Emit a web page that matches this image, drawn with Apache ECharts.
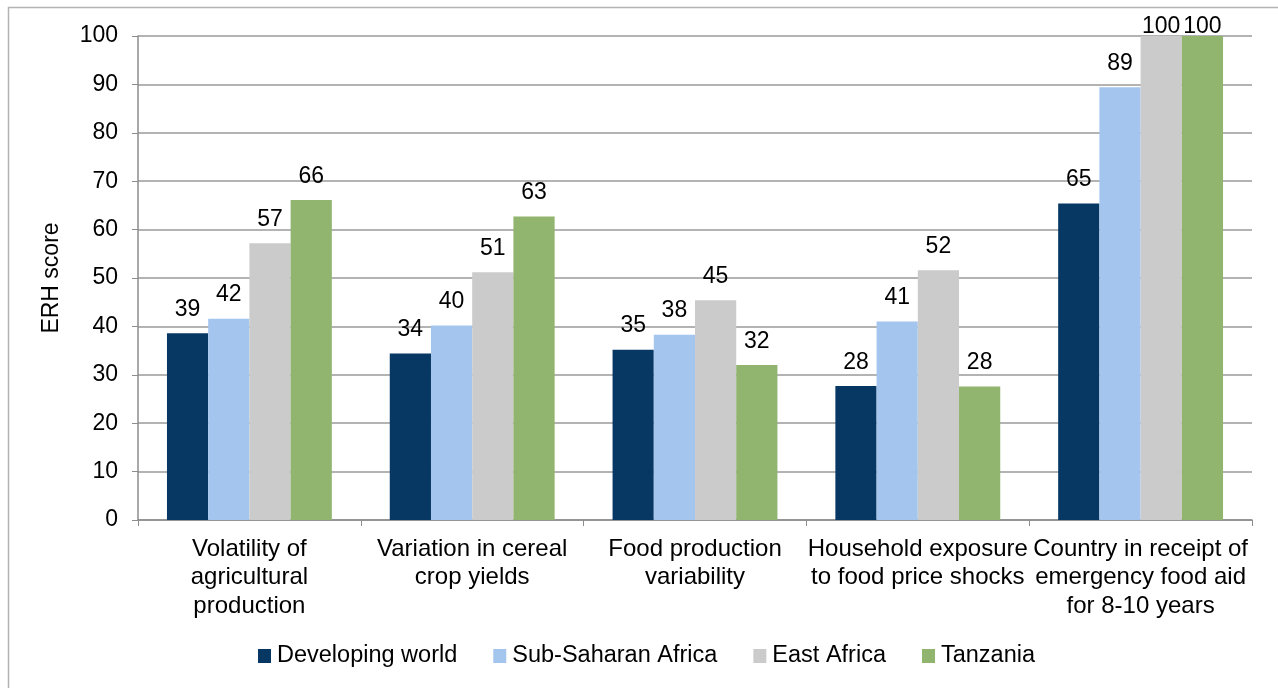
<!DOCTYPE html>
<html>
<head>
<meta charset="utf-8">
<script src="https://cdn.jsdelivr.net/npm/echarts@6/dist/echarts.min.js"></script>
<style>
html,body{margin:0;padding:0;background:#fff;}
#chart{width:1278px;height:688px;}
</style>
</head>
<body>
<div id="chart"></div>
<script>
const categories = [
  "Volatility of\nagricultural\nproduction",
  "Variation in cereal\ncrop yields",
  "Food production\nvariability",
  "Household exposure\nto food price shocks",
  "Country in receipt of\nemergency food aid\nfor 8-10 years"
];
const seriesNames = ["Developing world", "Sub-Saharan Africa", "East Africa", "Tanzania"];
const developingWorld = [38.6, 34.4, 35.2, 27.7, 65.4];
const subSaharanAfrica = [41.6, 40.2, 38.3, 41.0, 89.4];
const eastAfrica = [57.2, 51.2, 45.4, 51.6, 100];
const tanzania = [66.1, 62.7, 32.0, 27.6, 100];
const colors = ["#073763", "#a4c6ee", "#cbcbcb", "#91b46f"];
const yTicks = [0, 10, 20, 30, 40, 50, 60, 70, 80, 90, 100];

const font = "Liberation Sans, Arial, sans-serif";
const fs = 23;
const fsWide = 24;
const dataSets = [developingWorld, subSaharanAfrica, eastAfrica, tanzania];

const chart = echarts.init(document.getElementById('chart'));
chart.setOption({
  animation: false,
  backgroundColor: '#fff',
  textStyle: { fontFamily: font },
  graphic: [{
    type: 'rect',
    shape: { x: 8.5, y: 7.5, width: 1300, height: 700 },
    style: { fill: 'none', stroke: '#b3b3b3', lineWidth: 1.5 },
    silent: true
  }],
  grid: { left: 138, right: 26, top: 36, bottom: 168, containLabel: false },
  legend: {
    top: 639,
    left: 253,
    itemWidth: 13,
    itemHeight: 14,
    itemGap: 36,
    icon: 'rect',
    textStyle: { fontSize: 23.5, color: '#000', fontFamily: font, padding: [0, 0, 0, 1] },
    data: seriesNames
  },
  xAxis: {
    type: 'category',
    data: categories,
    axisLine: { lineStyle: { color: '#8c8c8c', width: 1.5 } },
    axisTick: { show: true, length: 6, lineStyle: { color: '#8c8c8c' } },
    axisLabel: { fontSize: fsWide, color: '#000', lineHeight: 28.5, interval: 0, margin: 15, fontFamily: font }
  },
  yAxis: {
    type: 'value',
    min: 0,
    max: 100,
    interval: 10,
    name: 'ERH score',
    nameLocation: 'middle',
    nameGap: 75,
    nameRotate: 90,
    nameTextStyle: { fontSize: fs, color: '#000', fontFamily: font },
    axisLine: { show: true, lineStyle: { color: '#8c8c8c', width: 1.5 } },
    axisTick: { show: true, length: 6, lineStyle: { color: '#8c8c8c' } },
    splitLine: { lineStyle: { color: '#9a9a9a', width: 1.5 } },
    axisLabel: { fontSize: fs, color: '#000', margin: 20, fontFamily: font,
      formatter: v => yTicks.includes(v) ? String(v) : '' }
  },
  series: seriesNames.map((n, i) => ({
    name: n,
    type: 'bar',
    data: dataSets[i].map(v => v >= 100 ? { value: v, label: { distance: -2 } } : v),
    barGap: '0%',
    barCategoryGap: '26%',
    itemStyle: { color: colors[i] },
    label: {
      show: true,
      position: 'top',
      distance: 12,
      fontSize: fs,
      color: '#000',
      fontFamily: font,
      formatter: p => String(Math.round(p.value))
    }
  }))
});
</script>
</body>
</html>
